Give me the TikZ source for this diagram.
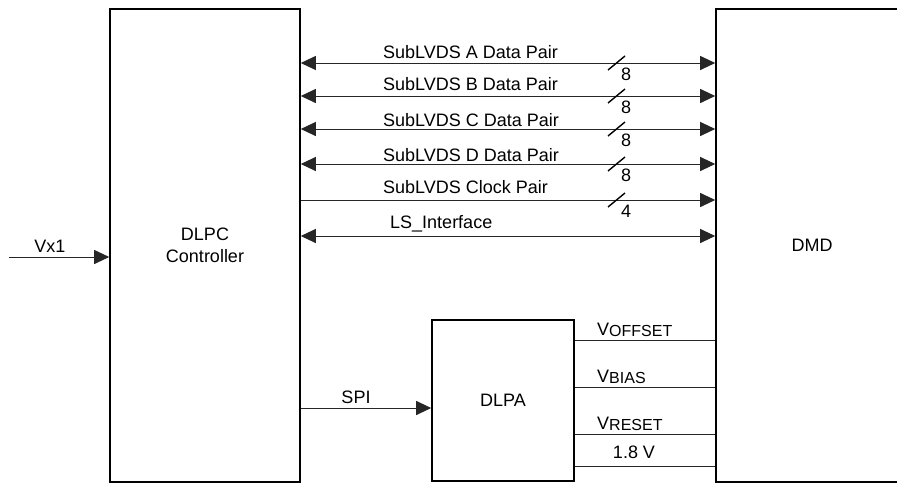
\documentclass[tikz,border=0pt]{standalone}
\usepackage{fontspec}
\setmainfont{Liberation Sans}
\usetikzlibrary{arrows.meta}

\newcommand{\vsub}[1]{V\raisebox{-1pt}{\fontsize{16}{16}\selectfont #1}}

\tikzset{
  block/.style={draw=black, line width=1.6pt, inner sep=0pt, align=center},
  sig/.style={draw=black!85, line width=1pt},
  tip/.style={sig, -{Triangle[length=15pt,width=14pt]}},
  both/.style={sig, {Triangle[length=15pt,width=14pt]}-{Triangle[length=15pt,width=14pt]}},
  lbl/.style={anchor=base west, inner sep=0pt},
  busmark/.style={draw=black, line width=1.4pt},
  buswidth/.style={inner sep=0pt}
}

\begin{document}
\begin{tikzpicture}[x=1pt, y=-1pt, font=\fontsize{18}{22}\selectfont]
    \useasboundingbox (0,0) rectangle (897,485);

    \node [block, minimum width=190pt, minimum height=473pt] (dlpc) at (205,245.5) {DLPC\\Controller};
    \node [block, minimum width=192pt, minimum height=473pt] (dmd) at (812,245.5) {DMD};
    \node [block, minimum width=142pt, minimum height=161pt] (dlpa) at (503,400.5) {DLPA};

    \coordinate (rowA) at (0,63);
    \coordinate (rowB) at (0,96);
    \coordinate (rowC) at (0,129);
    \coordinate (rowD) at (0,164);
    \coordinate (rowClk) at (0,200);
    \coordinate (rowLS) at (0,236);
    \coordinate (vin) at (9,257);
    \coordinate (rowSPI) at (0,408);
    \coordinate (rowOff) at (0,340);
    \coordinate (rowBias) at (0,387);
    \coordinate (rowRst) at (0,434);
    \coordinate (rowIO) at (0,466);

    % high speed interface
    \draw [both] (dlpc.east |- rowA) -- (dmd.west |- rowA);
    \draw [both] (dlpc.east |- rowB) -- (dmd.west |- rowB);
    \draw [both] (dlpc.east |- rowC) -- (dmd.west |- rowC);
    \draw [both] (dlpc.east |- rowD) -- (dmd.west |- rowD);
    \draw [tip] (dlpc.east |- rowClk) -- (dmd.west |- rowClk);
    \draw [both] (dlpc.east |- rowLS) -- (dmd.west |- rowLS);

    \node [lbl] (labA) at (383,58) {SubLVDS A Data Pair};
    \node [lbl] (labB) at (383,90) {SubLVDS B Data Pair};
    \node [lbl] (labC) at (383,126) {SubLVDS C Data Pair};
    \node [lbl] (labD) at (383,161) {SubLVDS D Data Pair};
    \node [lbl] (labClk) at (383,193) {SubLVDS Clock Pair};
    \node [lbl] (labLS) at (390,228) {LS\_Interface};

    \draw [busmark] (616.5,63) ++(-8.5,7) -- ++(17,-14);
    \draw [busmark] (616.5,96) ++(-8.5,7) -- ++(17,-14);
    \draw [busmark] (616.5,129) ++(-8.5,7) -- ++(17,-14);
    \draw [busmark] (616.5,164) ++(-8.5,7) -- ++(17,-14);
    \draw [busmark] (616.5,200) ++(-8.5,7) -- ++(17,-14);

    \node [buswidth] (nA) at (626,74.5) {8};
    \node [buswidth] (nB) at (626,107.5) {8};
    \node [buswidth] (nC) at (626,140.5) {8};
    \node [buswidth] (nD) at (626,175.5) {8};
    \node [buswidth] (nClk) at (626,211.5) {4};

    % video input
    \draw [tip] (vin) -- (dlpc.west |- vin);
    \node (labVx) at (50,246) {Vx1};

    % control
    \draw [tip] (dlpc.east |- rowSPI) -- (dlpa.west |- rowSPI);
    \node [inner sep=0pt, anchor=base] (labSPI) at (356,403) {SPI};

    % supplies
    \draw [sig] (dlpa.east |- rowOff) -- (dmd.west |- rowOff);
    \draw [sig] (dlpa.east |- rowBias) -- (dmd.west |- rowBias);
    \draw [sig] (dlpa.east |- rowRst) -- (dmd.west |- rowRst);
    \draw [sig] (dlpa.east |- rowIO) -- (dmd.west |- rowIO);

    \node [lbl] (labOff) at (597,335) {\vsub{OFFSET}};
    \node [lbl] (labBias) at (597,382) {\vsub{BIAS}};
    \node [lbl] (labRst) at (597,429) {\vsub{RESET}};
    \node [inner sep=0pt, anchor=base] (labIO) at (634,458) {1.8 V};
  \end{tikzpicture}
\end{document}
